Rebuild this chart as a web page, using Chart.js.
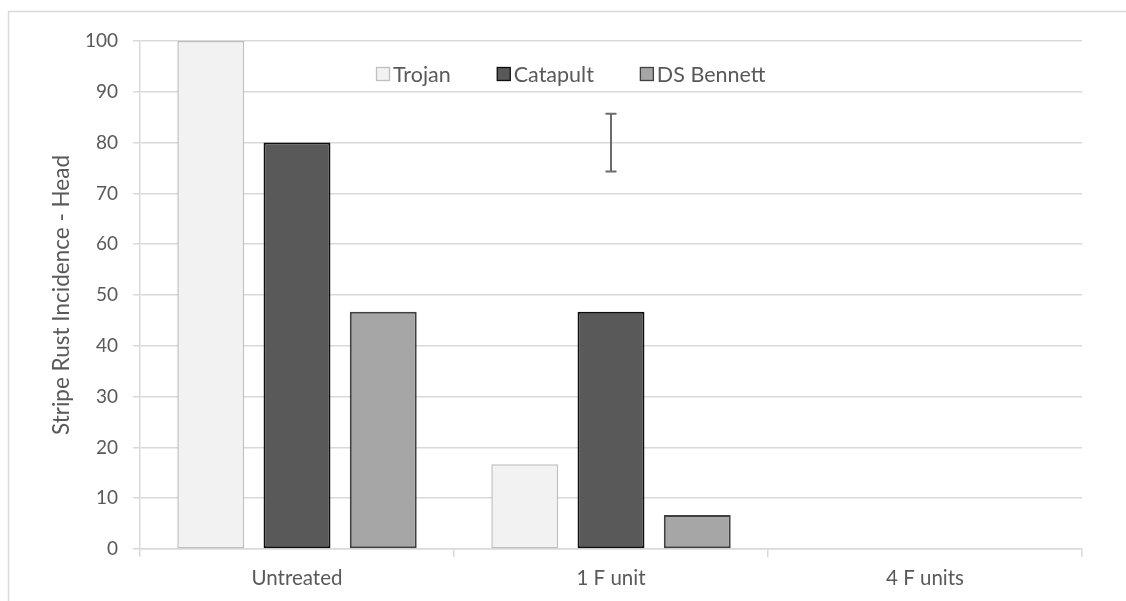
<!DOCTYPE html>
<html>
<head>
<meta charset="utf-8">
<script src="https://cdn.jsdelivr.net/npm/chart.js@4"></script>
<style>
  html, body { margin: 0; padding: 0; background: #ffffff; }
  #wrap { width: 1126px; height: 601px; }
</style>
</head>
<body>
<div id="wrap"><canvas id="c" width="1126" height="601"></canvas></div>
<script>
// ---- data ----
const categories = ['Untreated', '1 F unit', '4 F units'];
const seriesNames = ['Trojan', 'Catapult', 'DS Bennett'];
const trojan = [100, 16.7, 0];
const catapult = [80, 46.7, 0];
const dsBennett = [46.7, 6.7, 0];
const yMin = 0, yMax = 100, yStep = 10;
const yTitle = 'Stripe Rust Incidence - Head';
// LSD error bar
const lsdCategory = '1 F unit';
const lsdLow = 74.3;
const lsdHigh = 85.7;

// ---- styles ----
const FONT = 'Lato, "Open Sans", sans-serif';
const TEXT = '#595959';
const GRID = '#d9d9d9';
const fills = ['#f2f2f2', '#595959', '#a6a6a6'];
const borders = ['#bfbfbf', '#0d0d0d', '#404040'];
const seriesData = [trojan, catapult, dsBennett];

const extras = {
  id: 'extras',
  beforeDraw(chart) {
    const ctx = chart.ctx;
    ctx.save();
    ctx.fillStyle = '#ffffff';
    ctx.fillRect(0, 0, chart.width, chart.height);
    ctx.strokeStyle = GRID;
    ctx.lineWidth = 1.5;
    ctx.strokeRect(8.5, 11.5, chart.width + 20, chart.height + 20);
    ctx.restore();
  },
  afterDatasetsDraw(chart) {
    const ctx = chart.ctx;
    const xs = chart.scales.x, ys = chart.scales.y;
    // error bar
    const ex = xs.getPixelForValue(categories.indexOf(lsdCategory));
    const y1 = ys.getPixelForValue(lsdHigh), y2 = ys.getPixelForValue(lsdLow);
    ctx.save();
    ctx.strokeStyle = '#6b6b6b';
    ctx.lineWidth = 2;
    ctx.beginPath();
    ctx.moveTo(ex, y1); ctx.lineTo(ex, y2);
    ctx.moveTo(ex - 5.5, y1); ctx.lineTo(ex + 5.5, y1);
    ctx.moveTo(ex - 5.5, y2); ctx.lineTo(ex + 5.5, y2);
    ctx.stroke();
    // legend
    ctx.font = '21.5px ' + FONT;
    ctx.textBaseline = 'middle';
    ctx.textAlign = 'left';
    let x = 376;
    const ly = 74;
    chart.data.datasets.forEach((ds, i) => {
      ctx.fillStyle = fills[i];
      ctx.fillRect(x + 0.5, ly - 6.5, 13, 13);
      ctx.strokeStyle = borders[i];
      ctx.lineWidth = 1.3;
      ctx.strokeRect(x + 0.5, ly - 6.5, 13, 13);
      ctx.fillStyle = TEXT;
      ctx.fillText(ds.label, x + 17, ly + 1);
      x += 17 + ctx.measureText(ds.label).width + 46;
    });
    ctx.restore();
  }
};

new Chart(document.getElementById('c'), {
  type: 'bar',
  data: {
    labels: categories,
    datasets: seriesNames.map((name, i) => ({
      label: name,
      data: seriesData[i],
      backgroundColor: fills[i],
      borderColor: borders[i],
      borderWidth: (c) => (c.raw === 0 ? 0 : (i === 0 ? 1.5 : 2)),
      borderSkipped: false,
      categoryPercentage: 0.824,
      barPercentage: 0.776
    }))
  },
  options: {
    responsive: false,
    animation: false,
    devicePixelRatio: 1,
    layout: { padding: { left: 48, right: 44, top: 41, bottom: 0 } },
    plugins: {
      legend: { display: false },
      tooltip: { enabled: false },
      title: { display: false }
    },
    scales: {
      x: {
        grid: { display: true, drawOnChartArea: false, color: GRID, lineWidth: 1.5, tickLength: 8, offset: true },
        border: { color: GRID, width: 1.5 },
        ticks: { color: TEXT, font: { family: FONT, size: 20.5 }, padding: 9 },
        afterFit(s) { s.height = 52; }
      },
      y: {
        min: yMin, max: yMax,
        ticks: { stepSize: yStep, color: TEXT, font: { family: FONT, size: 19 }, padding: 15 },
        grid: { color: GRID, lineWidth: 1.5, tickLength: 7 },
        border: { color: GRID, width: 1.5 },
        title: { display: true, text: yTitle, color: TEXT, font: { family: FONT, size: 22.5 }, padding: { top: 0, bottom: 0 } },
        afterFit(s) { s.width = 92; }
      }
    }
  },
  plugins: [extras]
});
</script>
</body>
</html>
